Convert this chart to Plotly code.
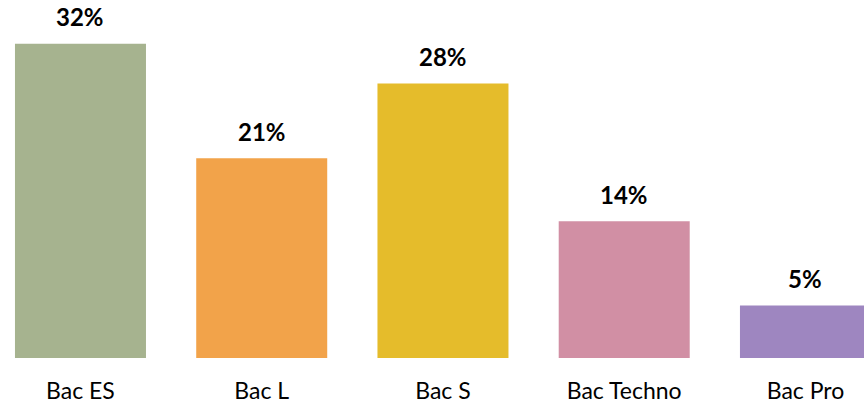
import plotly.graph_objects as go

categories = ["Bac ES", "Bac L", "Bac S", "Bac Techno", "Bac Pro"]
values = [32.4, 20.6, 28.3, 14.1, 5.4]
colors = ["#A6B38F", "#F2A34A", "#E5BC2B", "#D18FA4", "#9E86C0"]

fig = go.Figure()
fig.add_trace(go.Bar(
    x=list(range(len(categories))),
    y=values,
    width=0.7228,
    marker=dict(color=colors, line=dict(width=0)),
    hoverinfo="skip",
))

for i, v in enumerate(values):
    fig.add_annotation(
        x=i, y=v, text=f"<b>{round(v)}%</b>", showarrow=False,
        yanchor="middle", yshift=27,
        font=dict(family="Lato", size=24, color="#000000"),
    )

fig.update_layout(
    width=864, height=404,
    margin=dict(l=0, r=0, t=0, b=46),
    paper_bgcolor="white", plot_bgcolor="white",
    showlegend=False,
    xaxis=dict(
        range=[-0.444, 4.323],
        tickmode="array",
        tickvals=list(range(len(categories))),
        ticktext=categories,
        tickfont=dict(family="Lato", size=23, color="#000000"),
        showgrid=False, zeroline=False, showline=False, ticks="",
        ticklabelstandoff=17,
    ),
    yaxis=dict(range=[0, 36.9], visible=False, showgrid=False, zeroline=False),
)

fig.write_html(
    "out.html",
    config={"displayModeBar": False},
    post_script="document.body.style.margin='0';document.body.style.overflow='hidden';",
)
